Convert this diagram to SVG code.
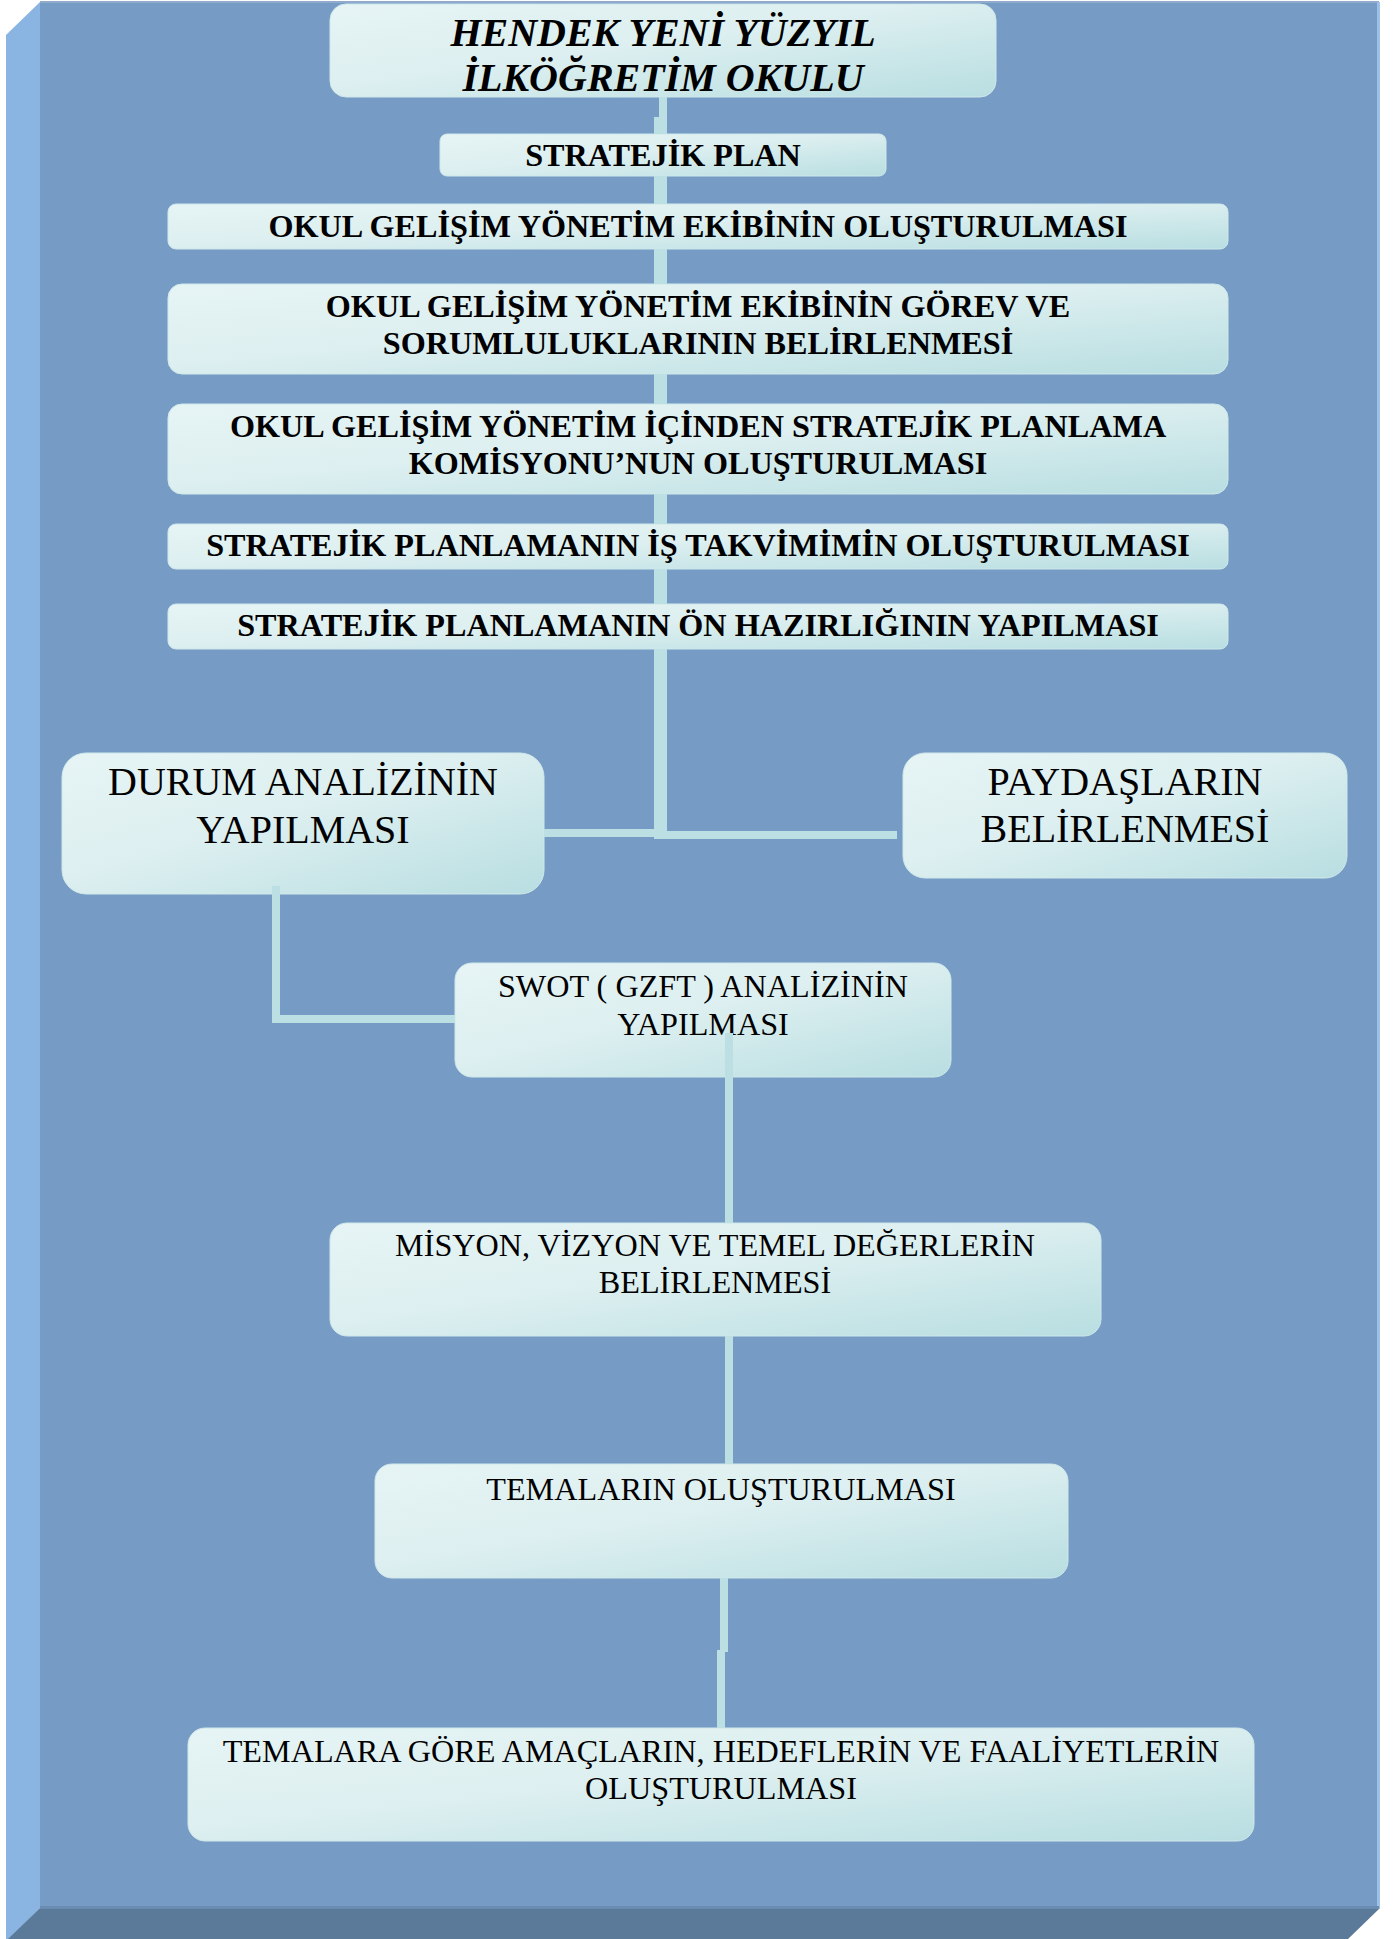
<svg xmlns="http://www.w3.org/2000/svg" width="1400" height="1939" viewBox="0 0 1400 1939">
<defs>
<linearGradient id="box" x1="0" y1="0" x2="1" y2="1">
<stop offset="0" stop-color="#E6F4F5"/>
<stop offset="0.45" stop-color="#DDEFF0"/>
<stop offset="1" stop-color="#B8DEE1"/>
</linearGradient>
<style>
.box{fill:url(#box);stroke:#CFE8EA;stroke-width:1}
.b{font-family:"Liberation Serif","Times New Roman",serif;font-weight:bold;font-size:32.2px;fill:#000;text-anchor:middle}
.t{font-family:"Liberation Serif","Times New Roman",serif;font-weight:bold;font-style:italic;font-size:40px;fill:#000;text-anchor:middle}
.r{font-family:"Liberation Serif","Times New Roman",serif;font-size:32.2px;fill:#000;text-anchor:middle}
.L{font-family:"Liberation Serif","Times New Roman",serif;font-size:40px;fill:#000;text-anchor:middle}
.c{fill:#BBDFE2}
</style>
</defs>
<g id="panel">
<polygon points="6,35 40,2 40,1908 6,1942" fill="#8AB5E2"/>
<polygon points="40,1908 1380,1908 1348,1939 8,1939" fill="#5B7998"/>
<rect x="40" y="2" width="1339" height="1906" fill="#769BC5"/>
<rect x="40" y="1" width="1339" height="2" fill="#8FAACB"/>
<rect x="1377" y="2" width="3" height="1906" fill="#9CC0E6"/>
<rect x="40" y="1906" width="1339" height="3" fill="#6A8CB3"/>
</g>
<g id="title">
<rect class="box" x="330" y="4" width="666" height="93" rx="16"/>
<text class="t" x="663" y="46">HENDEK YENİ YÜZYIL</text>
<text class="t" x="663" y="91">İLKÖĞRETİM OKULU</text>
</g>
<g id="stratejik-plan">
<rect class="box" x="440" y="134" width="446" height="42" rx="7"/>
<text class="b" x="663" y="166">STRATEJİK PLAN</text>
</g>
<g id="row1">
<rect class="box" x="168" y="204" width="1060" height="45" rx="8"/>
<text class="b" x="698" y="237">OKUL GELİŞİM YÖNETİM EKİBİNİN OLUŞTURULMASI</text>
</g>
<g id="row2">
<rect class="box" x="168" y="284" width="1060" height="90" rx="14"/>
<text class="b" x="698" y="317">OKUL GELİŞİM YÖNETİM EKİBİNİN GÖREV VE</text>
<text class="b" x="698" y="354">SORUMLULUKLARININ BELİRLENMESİ</text>
</g>
<g id="row3">
<rect class="box" x="168" y="404" width="1060" height="90" rx="14"/>
<text class="b" x="698" y="437">OKUL GELİŞİM YÖNETİM İÇİNDEN STRATEJİK PLANLAMA</text>
<text class="b" x="698" y="474">KOMİSYONU’NUN OLUŞTURULMASI</text>
</g>
<g id="row4">
<rect class="box" x="168" y="524" width="1060" height="45" rx="8"/>
<text class="b" x="698" y="556">STRATEJİK PLANLAMANIN İŞ TAKVİMİMİN OLUŞTURULMASI</text>
</g>
<g id="row5">
<rect class="box" x="168" y="604" width="1060" height="45" rx="8"/>
<text class="b" x="698" y="636">STRATEJİK PLANLAMANIN ÖN HAZIRLIĞININ YAPILMASI</text>
</g>
<g id="durum">
<rect class="box" x="62" y="753" width="482" height="141" rx="24"/>
<text class="L" x="303" y="795">DURUM ANALİZİNİN</text>
<text class="L" x="303" y="843">YAPILMASI</text>
</g>
<g id="paydas">
<rect class="box" x="903" y="753" width="444" height="125" rx="22"/>
<text class="L" x="1125" y="795">PAYDAŞLARIN</text>
<text class="L" x="1125" y="842">BELİRLENMESİ</text>
</g>
<g id="swot">
<rect class="box" x="455" y="963" width="496" height="114" rx="17"/>
<text class="r" x="703" y="997">SWOT ( GZFT ) ANALİZİNİN</text>
<text class="r" x="703" y="1035">YAPILMASI</text>
</g>
<g id="misyon">
<rect class="box" x="330" y="1223" width="771" height="113" rx="17"/>
<text class="r" x="715" y="1256">MİSYON, VİZYON VE TEMEL DEĞERLERİN</text>
<text class="r" x="715" y="1293">BELİRLENMESİ</text>
</g>
<g id="temalar">
<rect class="box" x="375" y="1464" width="693" height="114" rx="17"/>
<text class="r" x="721" y="1500">TEMALARIN OLUŞTURULMASI</text>
</g>
<g id="amaclar">
<rect class="box" x="188" y="1728" width="1066" height="113" rx="17"/>
<text class="r" x="721" y="1762">TEMALARA GÖRE AMAÇLARIN, HEDEFLERİN VE FAALİYETLERİN</text>
<text class="r" x="721" y="1799">OLUŞTURULMASI</text>
</g>
<g id="connectors">
<rect class="c" x="659" y="97" width="8" height="22"/>
<rect class="c" x="654" y="117" width="13" height="17"/>
<rect class="c" x="654" y="176" width="13" height="28"/>
<rect class="c" x="654" y="249" width="13" height="35"/>
<rect class="c" x="654" y="374" width="13" height="30"/>
<rect class="c" x="654" y="494" width="13" height="30"/>
<rect class="c" x="654" y="569" width="13" height="35"/>
<rect class="c" x="654" y="649" width="13" height="190"/>
<rect class="c" x="544" y="829" width="116" height="8"/>
<rect class="c" x="660" y="831" width="237" height="8"/>
<rect class="c" x="272" y="886" width="8" height="137"/>
<rect class="c" x="272" y="1015" width="183" height="8"/>
<rect class="c" x="725" y="1033" width="8" height="190"/>
<rect class="c" x="725" y="1336" width="8" height="128"/>
<rect class="c" x="720" y="1578" width="8" height="74"/>
<rect class="c" x="717" y="1650" width="8" height="78"/>
</g>
</svg>
